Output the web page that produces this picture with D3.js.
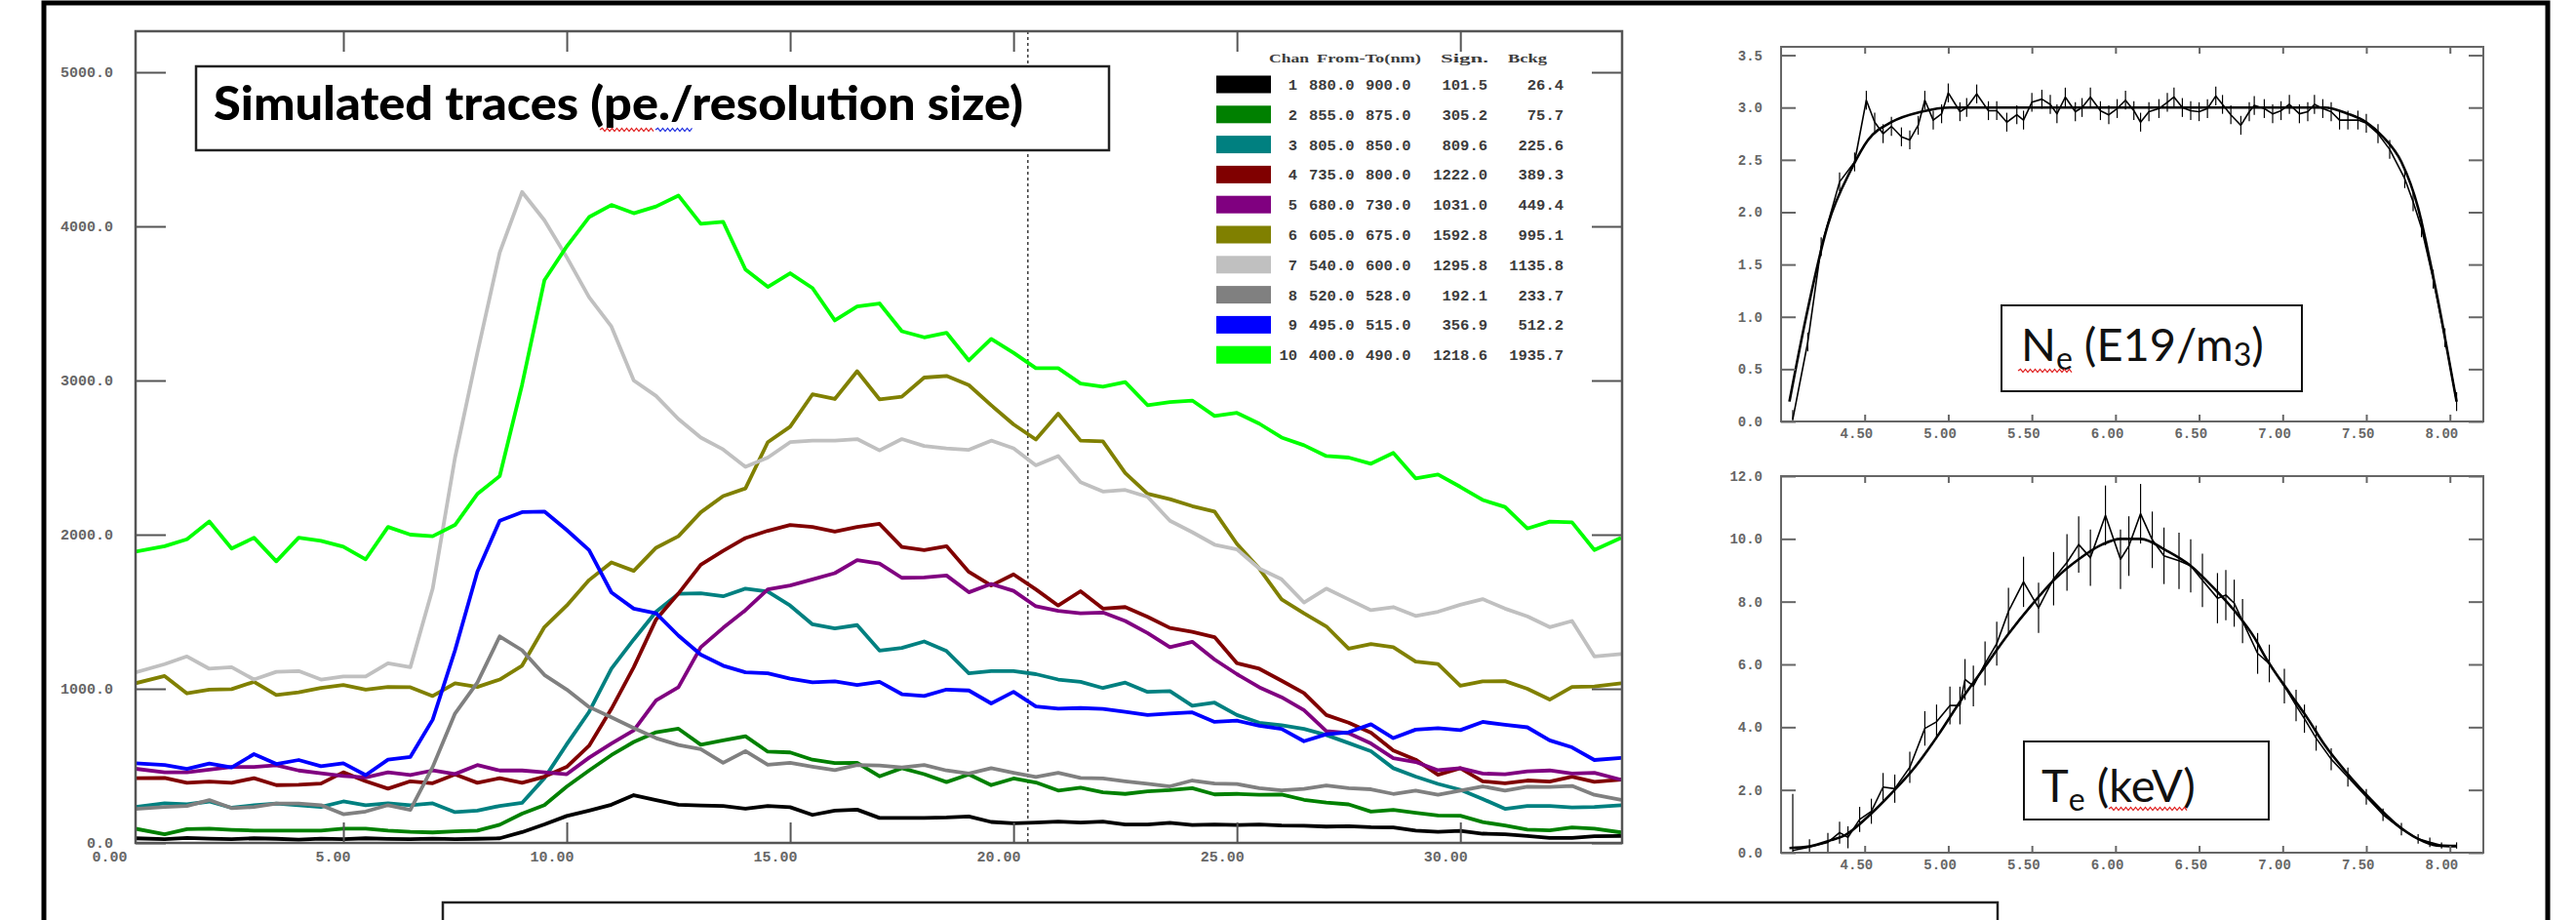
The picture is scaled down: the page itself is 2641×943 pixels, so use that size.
<!DOCTYPE html>
<html>
<head>
<meta charset="utf-8">
<script src="https://cdn.jsdelivr.net/npm/d3@7"></script>
<style>
  body { margin: 0; background: #ffffff; }
  svg { display: block; }
</style>
</head>
<body>
<svg id="fig" width="2641" height="943"></svg>
<script>
// ---------- Trace data: time axis (shared) and photo-electron counts per channel ----------
const times = [0.35, 1.0, 1.5, 2.0, 2.5, 3.0, 3.5, 4.0, 4.5, 5.0, 5.5, 6.0, 6.5, 7.0, 7.5, 8.0, 8.5, 9.0, 9.5, 10.0,
  10.5, 11.0, 11.5, 12.0, 12.5, 13.0, 13.5, 14.0, 14.5, 15.0, 15.5, 16.0, 16.5, 17.0, 17.5, 18.0, 18.5, 19.0, 19.5, 20.0,
  20.5, 21.0, 21.5, 22.0, 22.5, 23.0, 23.5, 24.0, 24.5, 25.0, 25.5, 26.0, 26.5, 27.0, 27.5, 28.0, 28.5, 29.0, 29.5, 30.0,
  30.5, 31.0, 31.5, 32.0, 32.5, 33.0, 33.6];

const ch1 = [30, 25, 32, 28, 24, 30, 27, 22, 28, 25, 30, 26, 24, 28, 25, 27, 30, 70, 120, 175, 210, 248, 310, 278, 248, 243, 240, 222, 240, 232, 182, 210, 216, 162, 162, 162, 165, 172, 136, 128, 132, 138, 132, 138, 120, 120, 130, 116, 120, 116, 120, 113, 112, 106, 108, 102, 100, 80, 72, 78, 60, 56, 45, 33, 33, 43, 45];
const ch2 = [92, 56, 90, 92, 85, 80, 80, 80, 80, 92, 92, 80, 72, 68, 75, 80, 118, 190, 245, 365, 470, 570, 655, 718, 741, 637, 665, 692, 592, 587, 540, 518, 520, 432, 485, 446, 395, 445, 375, 418, 392, 340, 358, 328, 318, 335, 343, 355, 315, 318, 313, 314, 280, 262, 250, 203, 215, 196, 178, 176, 135, 113, 86, 82, 100, 92, 68];
const ch3 = [233, 257, 250, 269, 228, 245, 255, 245, 233, 269, 245, 257, 245, 257, 200, 210, 240, 260, 420, 640, 850, 1130, 1320, 1500, 1616, 1620, 1600, 1650, 1630, 1540, 1418, 1392, 1413, 1248, 1265, 1307, 1245, 1100, 1115, 1115, 1095, 1060, 1045, 1005, 1040, 980, 985, 890, 910, 830, 780, 764, 740, 700, 648, 595, 485, 430, 383, 345, 285, 221, 240, 240, 230, 233, 245];
const ch4 = [420, 422, 390, 398, 390, 420, 375, 378, 385, 458, 400, 352, 400, 387, 445, 390, 420, 390, 430, 493, 630, 870, 1140, 1450, 1618, 1805, 1895, 1978, 2025, 2063, 2050, 2020, 2050, 2070, 1920, 1900, 1925, 1758, 1670, 1742, 1645, 1540, 1633, 1520, 1530, 1467, 1395, 1370, 1335, 1166, 1130, 1052, 972, 830, 780, 715, 600, 540, 442, 485, 400, 387, 405, 398, 430, 396, 410];
const ch5 = [481, 458, 458, 475, 493, 493, 504, 470, 452, 434, 425, 458, 440, 470, 447, 505, 470, 470, 458, 446, 553, 645, 730, 925, 1010, 1270, 1395, 1510, 1645, 1670, 1710, 1750, 1835, 1813, 1720, 1722, 1735, 1626, 1680, 1635, 1535, 1505, 1490, 1495, 1440, 1362, 1270, 1305, 1190, 1095, 1010, 945, 862, 725, 712, 645, 550, 525, 472, 485, 450, 446, 465, 470, 450, 455, 410];
const ch6 = [1036, 1083, 970, 995, 998, 1045, 960, 977, 1005, 1024, 995, 1012, 1010, 953, 1036, 1012, 1060, 1150, 1400, 1540, 1705, 1820, 1765, 1915, 1990, 2145, 2250, 2300, 2600, 2700, 2910, 2880, 3060, 2878, 2895, 3019, 3030, 2970, 2840, 2715, 2617, 2785, 2610, 2605, 2400, 2265, 2230, 2185, 2150, 1940, 1780, 1580, 1490, 1405, 1260, 1290, 1270, 1177, 1160, 1020, 1048, 1050, 1000, 930, 1012, 1015, 1036];
const ch7 = [1107, 1160, 1210, 1130, 1140, 1060, 1110, 1115, 1060, 1080, 1080, 1166, 1140, 1650, 2500, 3180, 3830, 4223, 4040, 3800, 3540, 3350, 3000, 2900, 2750, 2630, 2553, 2440, 2500, 2600, 2610, 2610, 2620, 2547, 2620, 2575, 2560, 2550, 2610, 2560, 2450, 2510, 2340, 2280, 2290, 2245, 2090, 2016, 1935, 1905, 1780, 1710, 1560, 1650, 1580, 1510, 1530, 1473, 1500, 1545, 1582, 1520, 1470, 1400, 1440, 1210, 1225];
const ch8 = [221, 233, 240, 278, 226, 233, 255, 255, 245, 186, 204, 245, 215, 493, 840, 1040, 1340, 1250, 1090, 995, 882, 815, 745, 680, 635, 608, 520, 595, 507, 520, 495, 472, 505, 503, 490, 505, 470, 450, 485, 455, 428, 455, 422, 418, 400, 384, 367, 405, 385, 382, 355, 341, 351, 372, 355, 348, 318, 339, 312, 340, 367, 340, 365, 363, 370, 312, 280];
const ch9 = [517, 505, 480, 515, 490, 576, 512, 538, 498, 517, 440, 540, 558, 800, 1250, 1760, 2090, 2146, 2150, 2030, 1900, 1625, 1520, 1490, 1345, 1222, 1150, 1107, 1100, 1066, 1042, 1048, 1025, 1045, 965, 953, 995, 989, 905, 980, 885, 871, 875, 870, 850, 830, 840, 847, 785, 793, 760, 740, 660, 705, 718, 770, 680, 735, 744, 732, 785, 766, 750, 665, 620, 538, 552];
const ch10 = [1890, 1925, 1970, 2085, 1910, 1980, 1827, 1980, 1960, 1922, 1840, 2050, 2000, 1990, 2063, 2264, 2380, 2972, 3650, 3870, 4060, 4139, 4085, 4129, 4200, 4017, 4030, 3720, 3607, 3696, 3600, 3390, 3480, 3500, 3320, 3280, 3310, 3130, 3270, 3180, 3080, 3080, 2980, 2960, 2990, 2840, 2860, 2870, 2770, 2790, 2720, 2630, 2580, 2510, 2500, 2460, 2530, 2365, 2390, 2310, 2225, 2180, 2040, 2085, 2080, 1900, 1980];

// ---------- Legend table ----------
const chanIds   = [1, 2, 3, 4, 5, 6, 7, 8, 9, 10];
const chanFrom  = ["880.0", "855.0", "805.0", "735.0", "680.0", "605.0", "540.0", "520.0", "495.0", "400.0"];
const chanTo    = ["900.0", "875.0", "850.0", "800.0", "730.0", "675.0", "600.0", "528.0", "515.0", "490.0"];
const chanSign  = ["101.5", "305.2", "809.6", "1222.0", "1031.0", "1592.8", "1295.8", "192.1", "356.9", "1218.6"];
const chanBckg  = ["26.4", "75.7", "225.6", "389.3", "449.4", "995.1", "1135.8", "233.7", "512.2", "1935.7"];
const chanColor = ["#000000", "#008000", "#008080", "#800000", "#800080", "#808000", "#c0c0c0", "#808080", "#0000ff", "#00ff00"];
const chanSeries = [ch1, ch2, ch3, ch4, ch5, ch6, ch7, ch8, ch9, ch10];

// ---------- Axis ticks ----------
const mainXTickLabels = [0, 5, 10, 15, 20, 25, 30];
const mainXTicks = [5, 10, 15, 20, 25, 30];
const mainYTicks = [0, 1000, 2000, 3000, 4000, 5000];
const markerTime = 20.32;

// ---------- Density profile (E19/m3) ----------
const neX = [4.07, 4.16, 4.24, 4.35, 4.44, 4.51, 4.56, 4.61, 4.66, 4.72, 4.77, 4.82, 4.86, 4.91, 4.96, 5.00, 5.07, 5.11, 5.17, 5.24,
  5.29, 5.35, 5.41, 5.45, 5.50, 5.56, 5.61, 5.65, 5.70, 5.76, 5.80, 5.85, 5.91, 5.96, 6.01, 6.06, 6.11, 6.15, 6.20, 6.26,
  6.31, 6.35, 6.40, 6.45, 6.50, 6.55, 6.60, 6.64, 6.69, 6.75, 6.80, 6.83, 6.89, 6.94, 6.99, 7.04, 7.10, 7.15, 7.19, 7.24,
  7.29, 7.34, 7.39, 7.45, 7.50, 7.57, 7.64, 7.73, 7.78, 7.83, 7.90, 7.97, 8.04];
const neMeas = [0.02, 0.76, 1.67, 2.29, 2.48, 3.07, 2.86, 2.75, 2.82, 2.72, 2.69, 2.83, 3.07, 2.88, 2.94, 3.14, 2.96, 3.00, 3.13, 2.97,
  2.97, 2.86, 2.93, 2.88, 3.05, 3.08, 3.03, 2.94, 3.10, 2.96, 3.00, 3.10, 2.97, 2.93, 2.99, 3.07, 2.97, 2.86, 2.96, 2.99,
  3.05, 3.10, 3.00, 2.97, 2.96, 2.99, 3.11, 3.03, 2.93, 2.83, 2.96, 3.02, 2.99, 2.94, 2.97, 3.03, 2.94, 2.96, 3.03, 2.99,
  2.96, 2.88, 2.88, 2.88, 2.85, 2.75, 2.60, 2.32, 2.10, 1.85, 1.36, 0.80, 0.19];
const neErr = 0.09;
const neFitX = [4.05, 4.15, 4.28, 4.42, 4.52, 4.66, 4.84, 5.01, 7.25, 7.39, 7.50, 7.60, 7.71, 7.81, 7.88, 7.95, 8.04];
const neFit  = [0.19, 1.00, 1.88, 2.41, 2.69, 2.86, 2.96, 3.00, 3.00, 2.94, 2.86, 2.72, 2.48, 2.04, 1.54, 0.98, 0.19];
const neXTicks = [4.5, 5.0, 5.5, 6.0, 6.5, 7.0, 7.5, 8.0];
const neYTicks = [0, 0.5, 1.0, 1.5, 2.0, 2.5, 3.0, 3.5];

// ---------- Temperature profile (keV) ----------
const teX = [4.07, 4.17, 4.28, 4.35, 4.40, 4.47, 4.54, 4.61, 4.68, 4.77, 4.86, 4.93, 5.01, 5.07, 5.10, 5.15, 5.22, 5.29, 5.36, 5.45,
  5.54, 5.63, 5.71, 5.78, 5.85, 5.94, 6.03, 6.08, 6.15, 6.22, 6.29, 6.38, 6.45, 6.52, 6.61, 6.66, 6.71, 6.76, 6.85, 6.92,
  7.01, 7.08, 7.13, 7.20, 7.29, 7.39, 7.50, 7.60, 7.71, 7.81, 7.88, 7.95, 8.04];
const teMeas = [0.07, 0.18, 0.33, 0.64, 0.49, 1.06, 1.32, 2.09, 2.04, 2.72, 3.96, 4.17, 4.69, 4.69, 5.52, 5.31, 6.03, 6.66, 7.69, 8.63,
  7.80, 8.73, 9.25, 9.82, 9.40, 10.75, 9.35, 9.77, 10.80, 9.97, 9.46, 9.30, 9.14, 8.68, 8.11, 8.21, 7.95, 7.38, 6.35, 6.03,
  5.31, 4.69, 4.27, 3.65, 2.98, 2.41, 1.78, 1.21, 0.75, 0.44, 0.33, 0.23, 0.23];
const teErr = [1.80, 0.25, 0.30, 0.35, 0.35, 0.40, 0.40, 0.45, 0.45, 0.50, 0.55, 0.55, 0.60, 0.60, 0.65, 0.65, 0.70, 0.70, 0.75, 0.80,
  0.80, 0.85, 0.90, 0.90, 0.90, 0.95, 0.95, 0.95, 0.95, 0.90, 0.90, 0.90, 0.85, 0.85, 0.80, 0.80, 0.75, 0.70, 0.65, 0.60,
  0.55, 0.50, 0.45, 0.40, 0.35, 0.30, 0.25, 0.20, 0.20, 0.15, 0.15, 0.10, 0.10];
const teFitX = [4.05, 4.17, 4.30, 4.38, 4.52, 4.66, 4.80, 4.94, 5.08, 5.22, 5.36, 5.50, 5.64, 5.78, 5.92, 6.03, 6.15, 6.31, 6.45, 6.59,
  6.73, 6.83, 6.90, 7.04, 7.15, 7.25, 7.39, 7.53, 7.67, 7.81, 7.92, 8.04];
const teFit  = [0.15, 0.20, 0.40, 0.55, 1.15, 1.89, 2.72, 3.75, 4.89, 5.93, 6.97, 7.90, 8.73, 9.35, 9.82, 10.0, 10.0, 9.61, 9.14, 8.42,
  7.59, 6.86, 6.20, 5.10, 4.27, 3.44, 2.50, 1.68, 0.95, 0.44, 0.23, 0.20];
const teYTicks = [0, 2, 4, 6, 8, 10, 12];

// ---------------------------------------------------------------------------
const svg = d3.select("#fig");
const monoFont = '"Liberation Mono", "DejaVu Sans Mono", monospace';
const textFont = 'Lato, "Open Sans", sans-serif';

svg.append("rect").attr("width", 2641).attr("height", 943).attr("fill", "#fff");

// Outer black frame around the whole figure
svg.append("rect")
  .attr("x", 45).attr("y", 3).attr("width", 2612 - 45).attr("height", 1100)
  .attr("fill", "none").attr("stroke", "#000").attr("stroke-width", 5);

// Helper: draw frame, inward ticks and labels for one panel
function drawFrame(g, box, xs, ys, opt) {
  g.append("rect")
    .attr("x", box.l).attr("y", box.t).attr("width", box.r - box.l).attr("height", box.b - box.t)
    .attr("fill", "none").attr("stroke", opt.frameColor).attr("stroke-width", opt.frameWidth);

  const axB = g.append("g").attr("transform", `translate(0,${box.b})`)
    .call(d3.axisBottom(xs).tickValues(opt.xLabelVals).tickSize(-opt.xTickLen).tickPadding(opt.xPad).tickFormat(d3.format(opt.xFmt)));
  const axT = g.append("g").attr("transform", `translate(0,${box.t})`)
    .call(d3.axisTop(xs).tickValues(opt.xTickVals).tickSize(-opt.xTickLen).tickFormat(""));
  const axL = g.append("g").attr("transform", `translate(${box.l},0)`)
    .call(d3.axisLeft(ys).tickValues(opt.yVals).tickSize(-opt.yTickLen).tickPadding(opt.yPad).tickFormat(d3.format(opt.yFmt)));
  const axR = g.append("g").attr("transform", `translate(${box.r},0)`)
    .call(d3.axisRight(ys).tickValues(opt.yVals).tickSize(-opt.yTickLen).tickFormat(""));

  [axB, axT, axL, axR].forEach(a => {
    a.select(".domain").remove();
    a.selectAll(".tick line").attr("stroke", opt.frameColor).attr("stroke-width", opt.tickWidth);
  });
  axB.selectAll(".tick").filter(d => !opt.xTickVals.includes(d)).select("line").remove();

  axB.selectAll(".tick text")
    .attr("font-family", monoFont).attr("font-weight", "bold").attr("font-size", opt.fontSize)
    .attr("fill", "#666").attr("text-anchor", "end").attr("dx", opt.xLabelDx).attr("dy", "0.71em");
  axL.selectAll(".tick text")
    .attr("font-family", monoFont).attr("font-weight", "bold").attr("font-size", opt.fontSize)
    .attr("fill", "#666");
}

// ---------- Main panel: simulated traces ----------
const mainBox = { l: 139, r: 1663, t: 32, b: 864 };
const x = d3.scaleLinear().domain([0.35, 33.62]).range([mainBox.l, mainBox.r]);
const y = d3.scaleLinear().domain([0, 5266]).range([mainBox.b, mainBox.t]);

const mainG = svg.append("g");
svg.append("clipPath").attr("id", "mainClip").append("rect")
  .attr("x", mainBox.l).attr("y", mainBox.t).attr("width", mainBox.r - mainBox.l).attr("height", mainBox.b - mainBox.t);

// time marker
mainG.append("line")
  .attr("x1", x(markerTime)).attr("x2", x(markerTime)).attr("y1", mainBox.t).attr("y2", mainBox.b)
  .attr("stroke", "#444").attr("stroke-width", 1.6).attr("stroke-dasharray", "3,3");

const traceG = mainG.append("g").attr("clip-path", "url(#mainClip)");
const line = d3.line().x((d, i) => x(times[i])).y(d => y(d));
chanSeries.forEach((s, k) => {
  traceG.append("path").datum(s)
    .attr("d", line)
    .attr("fill", "none").attr("stroke", chanColor[k]).attr("stroke-width", 3.8)
    .attr("stroke-linejoin", "round");
});

drawFrame(mainG, mainBox, x, y, {
  frameColor: "#555", frameWidth: 2.5, tickWidth: 2,
  xLabelVals: mainXTickLabels, xTickVals: mainXTicks, yVals: mainYTicks,
  xTickLen: 21, yTickLen: 31, xPad: 8, yPad: 23, xFmt: ".2f", yFmt: ".1f",
  fontSize: 15, xLabelDx: 7
});

// Title box
svg.append("rect").attr("x", 201).attr("y", 68).attr("width", 1137 - 201).attr("height", 154 - 68)
  .attr("fill", "#fff").attr("stroke", "#222").attr("stroke-width", 2.5);
svg.append("text").attr("x", 219).attr("y", 123)
  .attr("font-family", textFont).attr("font-weight", "900").attr("font-size", 47)
  .attr("textLength", 830).attr("lengthAdjust", "spacingAndGlyphs")
  .text("Simulated traces (pe./resolution size)");

function squiggle(x0, x1, yy, color) {
  let d = `M${x0},${yy}`;
  let up = true;
  for (let xx = x0 + 2.5; xx <= x1; xx += 2.5) { d += `L${xx},${yy + (up ? -1.6 : 1.6)}`; up = !up; }
  svg.append("path").attr("d", d).attr("fill", "none").attr("stroke", color).attr("stroke-width", 1.2);
}
squiggle(615, 672, 133, "#e02020");
squiggle(672, 710, 133, "#2030e0");

// Legend
const legG = svg.append("g").attr("font-family", monoFont).attr("font-weight", "bold").attr("fill", "#3c3c3c");
[["Chan", 1301, 41], ["From-To(nm)", 1350, 107], ["Sign.", 1477, 49], ["Bckg", 1546, 40]].forEach(([t, xx, w]) => {
  legG.append("text").attr("x", xx).attr("y", 64).attr("font-size", 13)
    .attr("font-family", '"Liberation Serif", serif')
    .attr("textLength", w).attr("lengthAdjust", "spacingAndGlyphs").text(t);
});
chanIds.forEach((id, k) => {
  const cy = 86.5 + k * 30.8;
  legG.append("rect").attr("x", 1247).attr("y", cy - 9).attr("width", 56).attr("height", 18).attr("fill", chanColor[k]);
  const row = legG.append("g").attr("font-size", 15.5);
  row.append("text").attr("x", 1330).attr("y", cy + 5.5).attr("text-anchor", "end").text(id);
  row.append("text").attr("x", 1342).attr("y", cy + 5.5).text(chanFrom[k]);
  row.append("text").attr("x", 1400).attr("y", cy + 5.5).text(chanTo[k]);
  row.append("text").attr("x", 1525).attr("y", cy + 5.5).attr("text-anchor", "end").text(chanSign[k]);
  row.append("text").attr("x", 1603).attr("y", cy + 5.5).attr("text-anchor", "end").text(chanBckg[k]);
});

// ---------- Profile panels ----------
function profilePanel(box, yDomain, yTicks, meas, measX, err, fit, fitX) {
  const g = svg.append("g");
  const px = d3.scaleLinear().domain([4.0, 8.2]).range([box.l, box.r]);
  const py = d3.scaleLinear().domain(yDomain).range([box.b, box.t]);

  // error bars
  g.append("g").selectAll("line").data(meas).join("line")
    .attr("x1", (d, i) => px(measX[i])).attr("x2", (d, i) => px(measX[i]))
    .attr("y1", (d, i) => py(Math.max(0, d - (Array.isArray(err) ? err[i] : err))))
    .attr("y2", (d, i) => py(d + (Array.isArray(err) ? err[i] : err)))
    .attr("stroke", "#000").attr("stroke-width", 1.2);

  g.append("path").datum(meas)
    .attr("d", d3.line().x((d, i) => px(measX[i])).y(d => py(d)))
    .attr("fill", "none").attr("stroke", "#000").attr("stroke-width", 1.6).attr("stroke-linejoin", "round");
  g.append("path").datum(fit)
    .attr("d", d3.line().curve(d3.curveMonotoneX).x((d, i) => px(fitX[i])).y(d => py(d)))
    .attr("fill", "none").attr("stroke", "#000").attr("stroke-width", 2.6);

  drawFrame(g, box, px, py, {
    frameColor: "#666", frameWidth: 2, tickWidth: 2,
    xLabelVals: neXTicks, xTickVals: neXTicks, yVals: yTicks,
    xTickLen: 7, yTickLen: 15, xPad: 7, yPad: 19, xFmt: ".2f", yFmt: ".1f",
    fontSize: 14, xLabelDx: 8
  });
  return g;
}

profilePanel({ l: 1826, r: 2546, t: 48, b: 432 }, [0, 3.58], neYTicks, neMeas, neX, neErr, neFit, neFitX);
profilePanel({ l: 1826, r: 2546, t: 488, b: 874 }, [0, 12], teYTicks, teMeas, teX, teErr, teFit, teFitX);

// Quantity labels
svg.append("rect").attr("x", 2052).attr("y", 313).attr("width", 308).attr("height", 88)
  .attr("fill", "#fff").attr("stroke", "#111").attr("stroke-width", 2);
const neLabel = svg.append("text").attr("x", 2072).attr("y", 370)
  .attr("font-family", textFont).attr("font-size", 47).attr("fill", "#111");
neLabel.append("tspan").text("N");
neLabel.append("tspan").attr("font-size", 32).attr("dy", 9).text("e");
neLabel.append("tspan").attr("dy", -9).text(" (E19/m");
neLabel.append("tspan").attr("font-size", 32).attr("dy", 5).text("3");
neLabel.append("tspan").attr("dy", -5).text(")");
squiggle(2069, 2126, 380, "#e02020");

svg.append("rect").attr("x", 2075).attr("y", 760).attr("width", 251).attr("height", 80)
  .attr("fill", "#fff").attr("stroke", "#111").attr("stroke-width", 2);
const teLabel = svg.append("text").attr("x", 2093).attr("y", 822)
  .attr("font-family", textFont).attr("font-size", 47).attr("fill", "#111");
teLabel.append("tspan").text("T");
teLabel.append("tspan").attr("font-size", 32).attr("dy", 9).text("e");
teLabel.append("tspan").attr("dy", -9).text(" (keV)");
squiggle(2162, 2243, 829, "#e02020");

// Caption box along the bottom edge
svg.append("rect").attr("x", 454).attr("y", 925).attr("width", 2048 - 454).attr("height", 100)
  .attr("fill", "#fff").attr("stroke", "#222").attr("stroke-width", 2.5);
</script>
</body>
</html>
